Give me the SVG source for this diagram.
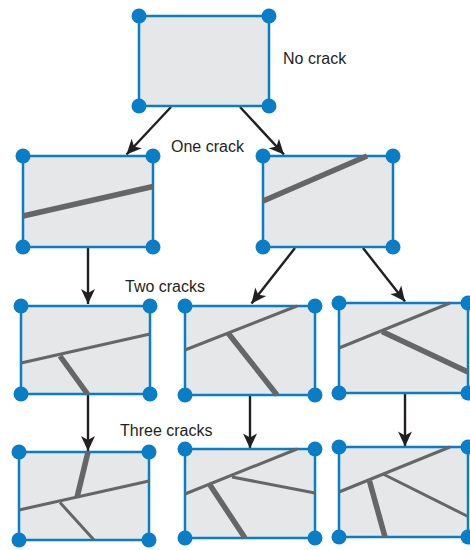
<svg xmlns="http://www.w3.org/2000/svg" width="470" height="550" viewBox="0 0 470 550">
<style>
.box{fill:#e6e7e8;stroke:#0a7dc7;stroke-width:2.5}
.dot{fill:#0a7dc7}
.thick{stroke:#666;stroke-width:5.5;fill:none}
.thin{stroke:#666;stroke-width:3;fill:none}
.arr{stroke:#231f20;stroke-width:2.4;fill:none;marker-end:url(#ah)}
.lbl{font-family:"Liberation Sans",Arial,sans-serif;font-size:16px;fill:#231f20}
</style>
<defs>
<marker id="ah" markerUnits="userSpaceOnUse" viewBox="-16 -8 17 16" refX="0" refY="0" markerWidth="17" markerHeight="16" orient="auto" overflow="visible">
<path d="M0,0 L-15,-7 L-11,0 L-15,7 Z" fill="#231f20"/>
</marker>
</defs>
<rect width="470" height="550" fill="#fff"/>
<g id="connectors">
<line class="arr" x1="171" y1="107" x2="126.5" y2="154.5"/>
<line class="arr" x1="240" y1="107" x2="284" y2="154.5"/>
<line class="arr" x1="88" y1="248" x2="88" y2="304"/>
<line class="arr" x1="295" y1="248" x2="251.5" y2="303.5"/>
<line class="arr" x1="363" y1="248" x2="405" y2="301.5"/>
<line class="arr" x1="88" y1="395" x2="88" y2="451"/>
<line class="arr" x1="250" y1="396" x2="250" y2="448.5"/>
<line class="arr" x1="405" y1="394" x2="405" y2="446.5"/>
</g>
<g id="n0">
<rect class="box" x="139" y="16" width="130" height="90"/>
<g class="dot"><circle cx="139" cy="16" r="7.5"/><circle cx="269" cy="16" r="7.5"/><circle cx="139" cy="106" r="7.5"/><circle cx="269" cy="106" r="7.5"/></g>
</g>
<g id="n1">
<rect class="box" x="23" y="156" width="130" height="91"/>
<line class="thick" x1="23" y1="216" x2="153" y2="186.5"/>
<g class="dot"><circle cx="23" cy="156" r="7.5"/><circle cx="153" cy="156" r="7.5"/><circle cx="23" cy="247" r="7.5"/><circle cx="153" cy="247" r="7.5"/></g>
</g>
<g id="n2">
<rect class="box" x="263" y="156" width="130" height="91"/>
<line class="thick" x1="263" y1="201" x2="367" y2="156"/>
<g class="dot"><circle cx="263" cy="156" r="7.5"/><circle cx="393" cy="156" r="7.5"/><circle cx="263" cy="247" r="7.5"/><circle cx="393" cy="247" r="7.5"/></g>
</g>
<g id="n3">
<rect class="box" x="21" y="306" width="129" height="88"/>
<line class="thin" x1="21" y1="363" x2="150" y2="334"/>
<line class="thick" x1="60" y1="356" x2="87.5" y2="394"/>
<g class="dot"><circle cx="21" cy="306" r="7.5"/><circle cx="150" cy="306" r="7.5"/><circle cx="21" cy="394" r="7.5"/><circle cx="150" cy="394" r="7.5"/></g>
</g>
<g id="n4">
<rect class="box" x="185" y="306" width="130" height="89"/>
<line class="thin" x1="185" y1="350" x2="297" y2="306"/>
<line class="thick" x1="228" y1="333" x2="277" y2="395"/>
<g class="dot"><circle cx="185" cy="306" r="7.5"/><circle cx="315" cy="306" r="7.5"/><circle cx="185" cy="395" r="7.5"/><circle cx="315" cy="395" r="7.5"/></g>
</g>
<g id="n5">
<rect class="box" x="339" y="303" width="129" height="90"/>
<line class="thin" x1="339" y1="348" x2="450" y2="303"/>
<line class="thick" x1="382" y1="331.5" x2="468" y2="372"/>
<g class="dot"><circle cx="339" cy="303" r="7.5"/><circle cx="468" cy="303" r="7.5"/><circle cx="339" cy="393" r="7.5"/><circle cx="468" cy="393" r="7.5"/></g>
</g>
<g id="n6">
<rect class="box" x="19" y="452" width="130" height="88"/>
<line class="thin" x1="19" y1="510" x2="149" y2="481"/>
<line class="thick" x1="88" y1="452" x2="77" y2="497.5"/>
<line class="thin" x1="60" y1="502.5" x2="94" y2="540"/>
<g class="dot"><circle cx="19" cy="452" r="7.5"/><circle cx="149" cy="452" r="7.5"/><circle cx="19" cy="540" r="7.5"/><circle cx="149" cy="540" r="7.5"/></g>
</g>
<g id="n7">
<rect class="box" x="185" y="449" width="130" height="89"/>
<line class="thin" x1="185" y1="494" x2="297" y2="449"/>
<line class="thick" x1="210" y1="485" x2="245" y2="538"/>
<line class="thin" x1="232" y1="477" x2="315" y2="493"/>
<g class="dot"><circle cx="185" cy="449" r="7.5"/><circle cx="315" cy="449" r="7.5"/><circle cx="185" cy="538" r="7.5"/><circle cx="315" cy="538" r="7.5"/></g>
</g>
<g id="n8">
<rect class="box" x="339" y="447" width="129" height="90"/>
<line class="thin" x1="339" y1="492" x2="450" y2="447"/>
<line class="thick" x1="369.5" y1="481" x2="385" y2="537"/>
<line class="thin" x1="383" y1="474" x2="468" y2="516.5"/>
<g class="dot"><circle cx="339" cy="447" r="7.5"/><circle cx="468" cy="447" r="7.5"/><circle cx="339" cy="537" r="7.5"/><circle cx="468" cy="537" r="7.5"/></g>
</g>
<g id="labels">
<text class="lbl" x="283" y="64">No crack</text>
<text class="lbl" x="171" y="152">One crack</text>
<text class="lbl" x="125" y="292">Two cracks</text>
<text class="lbl" x="120" y="436">Three cracks</text>
</g>
</svg>
